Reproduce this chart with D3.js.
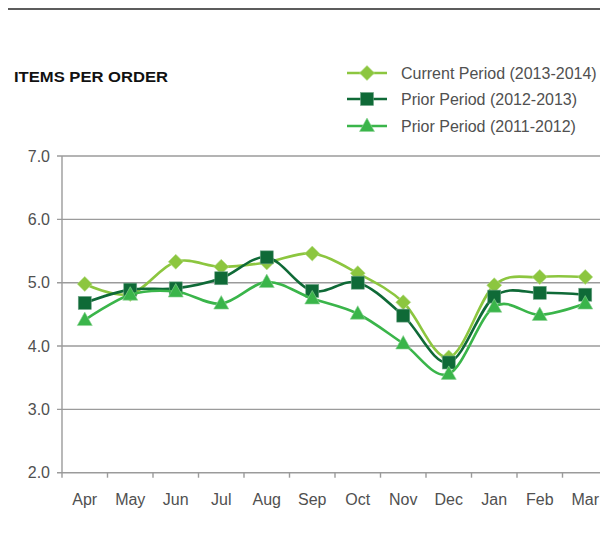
<!DOCTYPE html>
<html><head><meta charset="utf-8">
<script src="https://cdn.jsdelivr.net/npm/d3@7"></script>
<style>
html,body{margin:0;padding:0;background:#fff;}
svg{display:block;font-family:"Liberation Sans",Arial,Helvetica,sans-serif;}
</style></head>
<body><svg id="c" width="600" height="557"></svg>
<script>
const months = ["Apr","May","Jun","Jul","Aug","Sep","Oct","Nov","Dec","Jan","Feb","Mar"];
const current = [4.98,4.82,5.33,5.25,5.32,5.46,5.15,4.69,3.82,4.96,5.09,5.09];
const prior1 = [4.68,4.89,4.91,5.07,5.40,4.87,5.00,4.48,3.74,4.78,4.84,4.81];
const prior2 = [4.41,4.81,4.86,4.67,5.01,4.75,4.51,4.04,3.56,4.62,4.49,4.67];
const yTicks = [2,3,4,5,6,7];
const seriesNames = ["Current Period (2013-2014)","Prior Period (2012-2013)","Prior Period (2011-2012)"];

const series = [
  {name: seriesNames[0], values: current, color: "#8cc63f", marker: "diamond"},
  {name: seriesNames[1], values: prior1, color: "#0f6a37", marker: "square"},
  {name: seriesNames[2], values: prior2, color: "#3ab54a", marker: "triangle"}
];

const svg = d3.select("#c");
const x = d3.scaleBand().domain(months).range([62, 608]);
const y = d3.scaleLinear().domain([2, 7]).range([472.7, 156]);
const gridColor = "#9b9b9b";
const textColor = "#505050";

// top rule
svg.append("line").attr("x1", 8).attr("x2", 600).attr("y1", 9).attr("y2", 9)
  .attr("stroke", "#5c5c5c").attr("stroke-width", 2.2);

// title
svg.append("text").attr("x", 14).attr("y", 82).text("ITEMS PER ORDER")
  .attr("font-weight", "bold").attr("font-size", 14).attr("fill", "#111")
  .attr("textLength", 154).attr("lengthAdjust", "spacingAndGlyphs");

// gridlines
svg.append("g").selectAll("line").data(yTicks).join("line")
  .attr("x1", 57).attr("x2", 600)
  .attr("y1", d => y(d)).attr("y2", d => y(d))
  .attr("stroke", gridColor).attr("stroke-width", 1.4);

// y axis line
svg.append("line").attr("x1", 62).attr("x2", 62).attr("y1", y(7)).attr("y2", y(2))
  .attr("stroke", gridColor).attr("stroke-width", 1.4);

// y labels
svg.append("g").selectAll("text").data(yTicks).join("text")
  .attr("x", 50).attr("y", d => y(d)).attr("dy", "0.35em")
  .attr("text-anchor", "end").attr("font-size", 16).attr("fill", textColor)
  .text(d => d.toFixed(1));

// x ticks at band boundaries
const bounds = months.map(m => x(m)).concat([x(months[months.length-1]) + x.bandwidth()]);
svg.append("g").selectAll("line").data(bounds).join("line")
  .attr("x1", d => d).attr("x2", d => d).attr("y1", y(2)).attr("y2", y(2) + 5)
  .attr("stroke", gridColor).attr("stroke-width", 1.4);

// x labels
svg.append("g").selectAll("text").data(months).join("text")
  .attr("x", d => x(d) + x.bandwidth() / 2).attr("y", 505)
  .attr("text-anchor", "middle").attr("font-size", 16).attr("fill", textColor)
  .text(d => d);

const cx = (d, i) => x(months[i]) + x.bandwidth() / 2;
const line = d3.line().x(cx).y(d => y(d)).curve(d3.curveCardinal.tension(0));

function drawMarker(g, type, px, py, color) {
  if (type === "diamond") {
    g.append("path").attr("d", `M${px},${py-7.5}L${px+7.5},${py}L${px},${py+7.5}L${px-7.5},${py}Z`)
      .attr("fill", color).attr("stroke", "#b9dd8f").attr("stroke-width", 0.6);
  } else if (type === "square") {
    g.append("rect").attr("x", px - 6.5).attr("y", py - 6.5).attr("width", 13).attr("height", 13)
      .attr("fill", color).attr("stroke", "#6fa587").attr("stroke-width", 0.6);
  } else {
    g.append("path").attr("d", `M${px},${py-8}L${px+7.5},${py+5.5}L${px-7.5},${py+5.5}Z`)
      .attr("fill", color).attr("stroke", "#8fd497").attr("stroke-width", 0.6);
  }
}

series.forEach(s => {
  const g = svg.append("g");
  g.append("path").datum(s.values).attr("d", line)
    .attr("fill", "none").attr("stroke", s.color).attr("stroke-width", 2.6);
  s.values.forEach((v, i) => drawMarker(g, s.marker, cx(v, i), y(v), s.color));
});

// legend
const legY = [73, 99, 126];
series.forEach((s, i) => {
  const g = svg.append("g");
  g.append("line").attr("x1", 347).attr("x2", 387).attr("y1", legY[i]).attr("y2", legY[i])
    .attr("stroke", s.color).attr("stroke-width", 2.6);
  drawMarker(g, s.marker, 367, legY[i], s.color);
  g.append("text").attr("x", 401).attr("y", legY[i]).attr("dy", "0.35em")
    .attr("font-size", 16).attr("fill", textColor).text(s.name);
});
</script></body></html>
